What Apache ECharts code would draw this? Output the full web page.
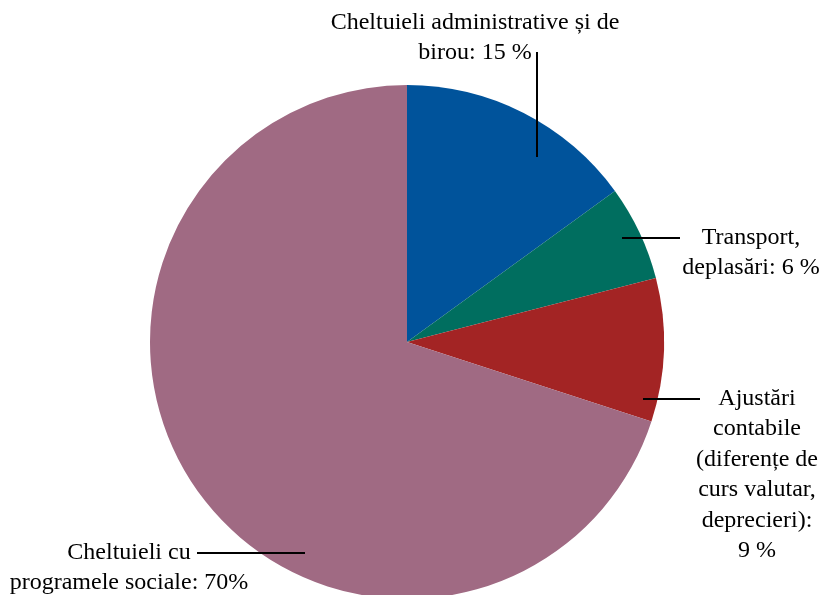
<!DOCTYPE html>
<html>
<head>
<meta charset="utf-8">
<script src="https://cdn.jsdelivr.net/npm/echarts@6/dist/echarts.min.js"></script>
<style>
  html, body { margin: 0; padding: 0; background: #fff; }
  #main { width: 820px; height: 595px; }
</style>
</head>
<body>
<div id="main"></div>
<script>
var categories = [
    'Cheltuieli administrative și de\nbirou: 15 %',
    'Transport,\ndeplasări: 6 %',
    'Ajustări\ncontabile\n(diferențe de\ncurs valutar,\ndeprecieri):\n9 %',
    'Cheltuieli cu\nprogramele sociale: 70%'
];
var values = [15, 6, 9, 70];
var colors = ['#00539b', '#006e5f', '#a32424', '#a06a83'];

// where each label sits and how its leader line runs
var labelPos = [
    { x: 475, y: 7, line: [[537, 157], [537, 52]] },
    { x: 751, y: 222, line: [[622, 238], [680, 238]] },
    { x: 757, y: 383, line: [[643, 399], [700, 399]] },
    { x: 129, y: 537, line: [[305, 553], [197, 553]] }
];

var myChart = echarts.init(document.getElementById('main'));

var option = {
    animation: false,
    graphic: labelPos.map(function (p) {
        return {
            type: 'polyline',
            z: 100,
            shape: { points: p.line },
            style: { stroke: '#000', lineWidth: 2, fill: null }
        };
    }),
    series: [{
        type: 'pie',
        center: [407, 342],
        radius: 257,
        startAngle: 90,
        clockwise: true,
        avoidLabelOverlap: false,
        data: categories.map(function (c, i) {
            return { name: c, value: values[i], itemStyle: { color: colors[i] } };
        }),
        label: {
            show: true,
            position: 'outside',
            formatter: '{b}',
            color: '#000',
            fontFamily: 'Liberation Serif',
            fontSize: 24,
            lineHeight: 30.5,
            align: 'center'
        },
        labelLine: { show: false },
        labelLayout: function (params) {
            var p = labelPos[params.dataIndex];
            return {
                x: p.x,
                y: p.y,
                align: 'center',
                verticalAlign: 'top'
            };
        },
        emphasis: { disabled: true }
    }]
};
myChart.setOption(option);
</script>
</body>
</html>
